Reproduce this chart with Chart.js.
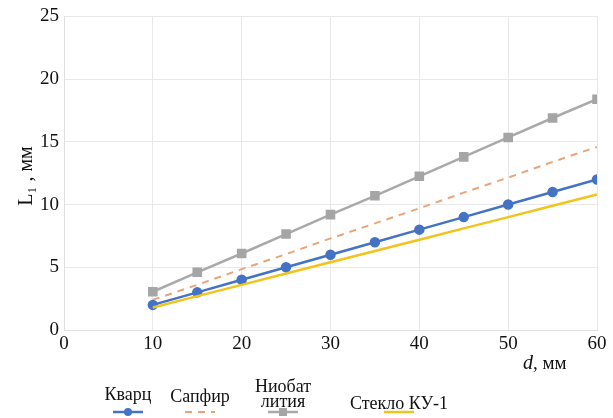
<!DOCTYPE html>
<html><head><meta charset="utf-8">
<script src="https://cdn.jsdelivr.net/npm/chart.js@4"></script>
<style>html,body{margin:0;padding:0;background:#fff}#wrap{width:613px;height:418px}</style>
</head><body><div id="wrap"><canvas id="c" width="613" height="418"></canvas></div>
<script>
const dValues = [10, 15, 20, 25, 30, 35, 40, 45, 50, 55, 60];
const kvarts = [2, 3, 4, 5, 6, 7, 8, 9, 10, 11, 12];
const sapfir = [2.4, 3.6, 4.85, 6.05, 7.3, 8.5, 9.7, 10.95, 12.15, 13.4, 14.6];
const niobat = [3.05, 4.6, 6.1, 7.65, 9.2, 10.7, 12.25, 13.8, 15.35, 16.9, 18.4];
const steklo = [1.8, 2.7, 3.6, 4.5, 5.4, 6.3, 7.2, 8.1, 9.0, 9.9, 10.8];
const seriesNames = ['Кварц', 'Сапфир', 'Ниобат лития', 'Стекло КУ-1'];
const yTitle = 'L₁ , мм';
const xTitleItalic = 'd';
const xTitleRest = ', мм';

const pts = arr => arr.map((v, i) => ({x: dValues[i], y: v}));
const FONT = '"Liberation Serif", "Times New Roman", serif';

const legendLayout = [
  {cx: 128, lines: ['Кварц'], ty: 395},
  {cx: 200, lines: ['Сапфир'], ty: 397},
  {cx: 283, lines: ['Ниобат', 'лития'], ty: 387},
  {cx: 399, lines: ['Стекло КУ-1'], ty: 404}
];

const extras = {
  id: 'extras',
  afterDraw(chart) {
    const ctx = chart.ctx;
    ctx.save();
    ctx.fillStyle = '#111';
    // y title
    ctx.font = '20px ' + FONT;
    ctx.translate(27, 176);
    ctx.rotate(-Math.PI / 2);
    ctx.textAlign = 'center';
    ctx.textBaseline = 'middle';
    ctx.fillText(yTitle, 0, 0);
    ctx.restore();
    // x title
    ctx.save();
    ctx.fillStyle = '#111';
    ctx.textBaseline = 'middle';
    ctx.textAlign = 'left';
    ctx.font = 'italic 20px ' + FONT;
    const x0 = 523;
    ctx.fillText(xTitleItalic, x0, 364);
    const w = ctx.measureText(xTitleItalic).width;
    ctx.font = '19px ' + FONT;
    ctx.fillText(xTitleRest, x0 + w, 364);
    // legend
    chart.data.datasets.forEach((ds, i) => {
      const L = legendLayout[i];
      ctx.fillStyle = '#111';
      ctx.font = '18px ' + FONT;
      ctx.textAlign = 'center';
      L.lines.forEach((t, k) => {
        ctx.fillText(t, L.cx, L.ty + k * 15);
      });
      const sy = 412;
      ctx.strokeStyle = ds.borderColor;
      ctx.lineWidth = ds.borderWidth;
      ctx.setLineDash(ds.borderDash || []);
      ctx.beginPath();
      ctx.moveTo(L.cx - 15, sy);
      ctx.lineTo(L.cx + 15, sy);
      ctx.stroke();
      ctx.setLineDash([]);
      if (ds.pointRadius > 0) {
        ctx.fillStyle = ds.pointBackgroundColor;
        if (ds.pointStyle === 'rect') {
          ctx.fillRect(L.cx - 4, sy - 4, 8, 8);
        } else {
          ctx.beginPath();
          ctx.arc(L.cx, sy, 4, 0, Math.PI * 2);
          ctx.fill();
        }
      }
    });
    ctx.restore();
  }
};

new Chart(document.getElementById('c'), {
  type: 'line',
  data: {
    datasets: [
      {label: seriesNames[0], data: pts(kvarts), borderColor: '#4472C4', backgroundColor: '#4472C4',
       pointBackgroundColor: '#4472C4', pointBorderColor: '#4472C4', borderWidth: 2.5, pointRadius: 4, pointStyle: 'circle', order: 2},
      {label: seriesNames[1], data: pts(sapfir), borderColor: '#E9A57A', backgroundColor: '#E9A57A',
       borderWidth: 2, borderDash: [7, 6], pointRadius: 0, order: 3},
      {label: seriesNames[2], data: pts(niobat), borderColor: '#A9A9A9', backgroundColor: '#A9A9A9',
       pointBackgroundColor: '#A5A5A5', pointBorderColor: '#A5A5A5', borderWidth: 2.5, pointRadius: 5, pointStyle: 'rect', order: 4},
      {label: seriesNames[3], data: pts(steklo), borderColor: '#F2C31A', backgroundColor: '#F2C31A',
       borderWidth: 2.5, pointRadius: 0, order: 1}
    ]
  },
  options: {
    responsive: false,
    animation: false,
    layout: {padding: {top: 14, right: 16, left: 0, bottom: 0}},
    plugins: {legend: {display: false}, tooltip: {enabled: false}},
    scales: {
      x: {
        type: 'linear', min: 0, max: 60,
        ticks: {stepSize: 10, color: '#111', font: {family: FONT, size: 19}, padding: 3},
        grid: {color: '#e8e8e8', drawTicks: false},
        border: {color: '#e0e0e0'},
        afterFit(s) { s.height = 88; }
      },
      y: {
        min: 0, max: 25,
        ticks: {stepSize: 5, color: '#111', font: {family: FONT, size: 19}, padding: 5},
        grid: {color: '#e8e8e8', drawTicks: false},
        border: {color: '#e0e0e0'},
        afterFit(s) { s.width = 64; }
      }
    }
  },
  plugins: [extras]
});
</script></body></html>
